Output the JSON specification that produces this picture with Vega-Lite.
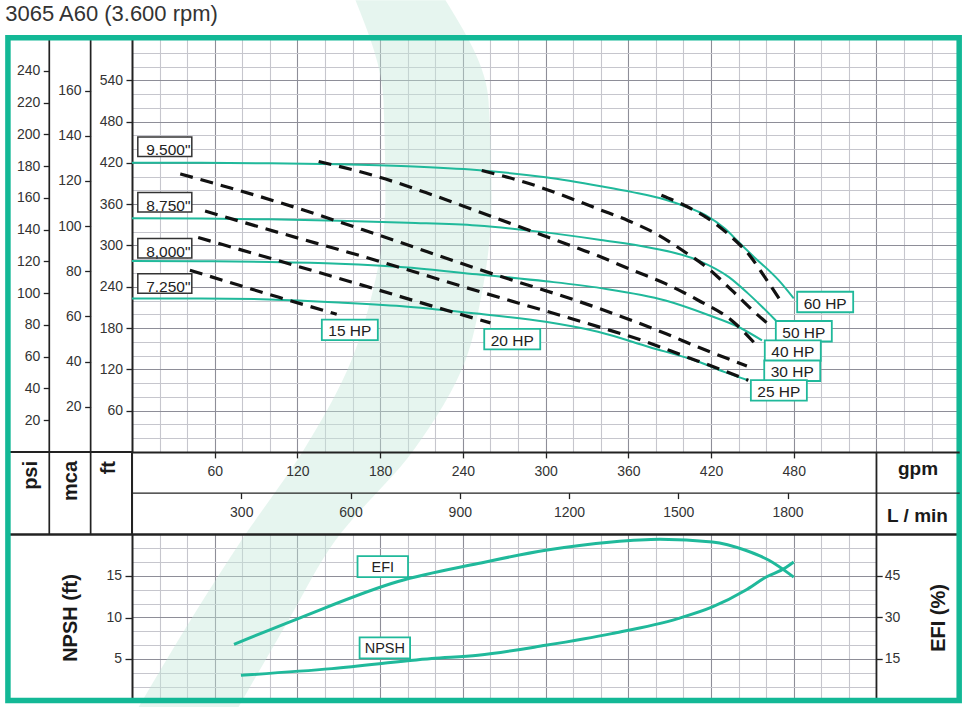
{
  "$schema": "https://vega.github.io/schema/vega-lite/v6.json",
  "background": "white",
  "padding": {"left": 5, "top": 0, "right": 0, "bottom": 0},
  "width": 827.2,
  "height": 661.5,
  "title": {"text": "3065 A60 (3.600 rpm)", "anchor": "start", "frame": "group", "dx": -126.8, "offset": -42.3, "fontSize": 22, "fontWeight": "normal", "color": "#333", "font": "Liberation Sans", "baseline": "alphabetic"},
  "config": {
    "view": {"stroke": null},
    "font": "Liberation Sans",
    "axis": {"labelFont": "Liberation Sans", "titleFont": "Liberation Sans", "labelColor": "#333", "labelFontSize": 14, "tickColor": "#222", "domainColor": "#222", "titleColor": "#1a1a1a", "labelFlush": false, "labelOverlap": false}
  },
  "datasets": {
    "band": [
      {"ft": 656.2, "gl": 162.1, "gr": 227.4}, {"ft": 510.9, "gl": 182.4, "gr": 258.6}, {"ft": 365.6, "gl": 183.8, "gr": 260.8}, {"ft": 220.3, "gl": 173.0, "gr": 252.8}, {"ft": 133.1, "gl": 159.2, "gr": 241.9}, {"ft": 2.3, "gl": 124.4, "gr": 204.2}, {"ft": -128.5, "gl": 79.4, "gr": 147.6}, {"ft": -244.7, "gl": 42.4, "gr": 113.5}, {"ft": -371.1, "gl": 4.7, "gr": 77.2}
    ],
    "diam": [
      {"d": "9.500\"", "gpm": 0, "ft": 420}, {"d": "9.500\"", "gpm": 50, "ft": 420}, {"d": "9.500\"", "gpm": 100, "ft": 419.5}, {"d": "9.500\"", "gpm": 150, "ft": 418}, {"d": "9.500\"", "gpm": 200, "ft": 415}, {"d": "9.500\"", "gpm": 250, "ft": 409.5}, {"d": "9.500\"", "gpm": 300, "ft": 399}, {"d": "9.500\"", "gpm": 340, "ft": 386}, {"d": "9.500\"", "gpm": 363, "ft": 377.5}, {"d": "9.500\"", "gpm": 387, "ft": 366.5}, {"d": "9.500\"", "gpm": 401, "ft": 357}, {"d": "9.500\"", "gpm": 416, "ft": 344}, {"d": "9.500\"", "gpm": 430, "ft": 324.5}, {"d": "9.500\"", "gpm": 440, "ft": 305}, {"d": "9.500\"", "gpm": 450, "ft": 285.5}, {"d": "9.500\"", "gpm": 469, "ft": 249.5}, {"d": "9.500\"", "gpm": 480, "ft": 223},
      {"d": "8.750\"", "gpm": 0, "ft": 339.5}, {"d": "8.750\"", "gpm": 50, "ft": 339}, {"d": "8.750\"", "gpm": 100, "ft": 338}, {"d": "8.750\"", "gpm": 150, "ft": 336}, {"d": "8.750\"", "gpm": 200, "ft": 333}, {"d": "8.750\"", "gpm": 250, "ft": 329}, {"d": "8.750\"", "gpm": 300, "ft": 319}, {"d": "8.750\"", "gpm": 340, "ft": 308}, {"d": "8.750\"", "gpm": 375, "ft": 297}, {"d": "8.750\"", "gpm": 411, "ft": 278}, {"d": "8.750\"", "gpm": 433, "ft": 254}, {"d": "8.750\"", "gpm": 447, "ft": 230}, {"d": "8.750\"", "gpm": 457, "ft": 211}, {"d": "8.750\"", "gpm": 467, "ft": 191},
      {"d": "8,000\"", "gpm": 0, "ft": 277.5}, {"d": "8,000\"", "gpm": 50, "ft": 277}, {"d": "8,000\"", "gpm": 100, "ft": 276}, {"d": "8,000\"", "gpm": 150, "ft": 273.5}, {"d": "8,000\"", "gpm": 200, "ft": 268}, {"d": "8,000\"", "gpm": 250, "ft": 258}, {"d": "8,000\"", "gpm": 300, "ft": 248}, {"d": "8,000\"", "gpm": 340, "ft": 238}, {"d": "8,000\"", "gpm": 387, "ft": 220}, {"d": "8,000\"", "gpm": 418, "ft": 199}, {"d": "8,000\"", "gpm": 440, "ft": 181.5}, {"d": "8,000\"", "gpm": 457, "ft": 162},
      {"d": "7.250\"", "gpm": 0, "ft": 223}, {"d": "7.250\"", "gpm": 50, "ft": 223}, {"d": "7.250\"", "gpm": 100, "ft": 221.5}, {"d": "7.250\"", "gpm": 150, "ft": 217}, {"d": "7.250\"", "gpm": 200, "ft": 211}, {"d": "7.250\"", "gpm": 250, "ft": 201}, {"d": "7.250\"", "gpm": 300, "ft": 189}, {"d": "7.250\"", "gpm": 338, "ft": 174.5}, {"d": "7.250\"", "gpm": 375, "ft": 152.5}, {"d": "7.250\"", "gpm": 411, "ft": 131}, {"d": "7.250\"", "gpm": 430, "ft": 116}, {"d": "7.250\"", "gpm": 447, "ft": 104}
    ],
    "hp": [
      {"hp": "15 HP", "gpm": 42, "ft": 264}, {"hp": "15 HP", "gpm": 106, "ft": 225}, {"hp": "15 HP", "gpm": 148.5, "ft": 200},
      {"hp": "20 HP", "gpm": 48, "ft": 311.5}, {"hp": "20 HP", "gpm": 106, "ft": 278}, {"hp": "20 HP", "gpm": 164, "ft": 244}, {"hp": "20 HP", "gpm": 252, "ft": 192}, {"hp": "20 HP", "gpm": 260, "ft": 187.5},
      {"hp": "25 HP", "gpm": 53, "ft": 350}, {"hp": "25 HP", "gpm": 106, "ft": 319}, {"hp": "25 HP", "gpm": 164, "ft": 286}, {"hp": "25 HP", "gpm": 252, "ft": 233}, {"hp": "25 HP", "gpm": 338, "ft": 182}, {"hp": "25 HP", "gpm": 370, "ft": 162}, {"hp": "25 HP", "gpm": 401, "ft": 139}, {"hp": "25 HP", "gpm": 428, "ft": 119}, {"hp": "25 HP", "gpm": 447, "ft": 104},
      {"hp": "30 HP", "gpm": 35, "ft": 404}, {"hp": "30 HP", "gpm": 106, "ft": 363}, {"hp": "30 HP", "gpm": 179, "ft": 315}, {"hp": "30 HP", "gpm": 252, "ft": 265}, {"hp": "30 HP", "gpm": 338, "ft": 209}, {"hp": "30 HP", "gpm": 387, "ft": 172}, {"hp": "30 HP", "gpm": 411, "ft": 152}, {"hp": "30 HP", "gpm": 446, "ft": 125},
      {"hp": "40 HP", "gpm": 135.4, "ft": 422}, {"hp": "40 HP", "gpm": 179, "ft": 399.5}, {"hp": "40 HP", "gpm": 215, "ft": 375.5}, {"hp": "40 HP", "gpm": 252, "ft": 348.5}, {"hp": "40 HP", "gpm": 288, "ft": 322}, {"hp": "40 HP", "gpm": 324, "ft": 295.5}, {"hp": "40 HP", "gpm": 338, "ft": 285}, {"hp": "40 HP", "gpm": 363, "ft": 264}, {"hp": "40 HP", "gpm": 387, "ft": 244.5}, {"hp": "40 HP", "gpm": 411, "ft": 220}, {"hp": "40 HP", "gpm": 435, "ft": 191}, {"hp": "40 HP", "gpm": 453, "ft": 155},
      {"hp": "50 HP", "gpm": 253.7, "ft": 409}, {"hp": "50 HP", "gpm": 288, "ft": 390}, {"hp": "50 HP", "gpm": 324, "ft": 364}, {"hp": "50 HP", "gpm": 338, "ft": 353}, {"hp": "50 HP", "gpm": 360, "ft": 336}, {"hp": "50 HP", "gpm": 382, "ft": 315}, {"hp": "50 HP", "gpm": 401, "ft": 290.5}, {"hp": "50 HP", "gpm": 418, "ft": 266.5}, {"hp": "50 HP", "gpm": 435, "ft": 235}, {"hp": "50 HP", "gpm": 450, "ft": 206}, {"hp": "50 HP", "gpm": 464, "ft": 181.5},
      {"hp": "60 HP", "gpm": 384, "ft": 373}, {"hp": "60 HP", "gpm": 401, "ft": 358}, {"hp": "60 HP", "gpm": 418, "ft": 339}, {"hp": "60 HP", "gpm": 435, "ft": 312}, {"hp": "60 HP", "gpm": 447, "ft": 288}, {"hp": "60 HP", "gpm": 459, "ft": 254}, {"hp": "60 HP", "gpm": 471, "ft": 218}
    ],
    "dlab": [
      {"t": "9.500\"", "gpm": 23.8, "ft": 443.6}, {"t": "8.750\"", "gpm": 23.8, "ft": 362.7}, {"t": "8,000\"", "gpm": 23.8, "ft": 295.9}, {"t": "7.250\"", "gpm": 23.8, "ft": 244.6}
    ],
    "hlab": [
      {"t": "15 HP", "gpm": 158, "ft": 177.2}, {"t": "20 HP", "gpm": 275.8, "ft": 163.9}, {"t": "60 HP", "gpm": 502.8, "ft": 217.8}, {"t": "50 HP", "gpm": 487.3, "ft": 175.3}, {"t": "40 HP", "gpm": 479.3, "ft": 147.2}, {"t": "30 HP", "gpm": 478.9, "ft": 117.9}, {"t": "25 HP", "gpm": 469.2, "ft": 89.5}
    ],
    "efi": [
      {"gpm": 74, "efi": 20.3}, {"gpm": 121, "efi": 29.7}, {"gpm": 193, "efi": 43}, {"gpm": 251, "efi": 49.5}, {"gpm": 300, "efi": 54.3}, {"gpm": 348, "efi": 57.3}, {"gpm": 383, "efi": 58.3}, {"gpm": 421, "efi": 57.3}, {"gpm": 445, "efi": 54.3}, {"gpm": 462, "efi": 50.7}, {"gpm": 480, "efi": 44.6}
    ],
    "npsh": [
      {"gpm": 79, "npsh": 3.04}, {"gpm": 145, "npsh": 3.84}, {"gpm": 217.5, "npsh": 5.05}, {"gpm": 251, "npsh": 5.45}, {"gpm": 300, "npsh": 6.65}, {"gpm": 348, "npsh": 8.06}, {"gpm": 396, "npsh": 9.87}, {"gpm": 421, "npsh": 11.27}, {"gpm": 445, "npsh": 13.28}, {"gpm": 460, "npsh": 14.88}, {"gpm": 473, "npsh": 15.89}, {"gpm": 480, "npsh": 16.69}
    ]
  },
  "layer": [
    {
      "data": {"values": [{}]},
      "mark": {"type": "rect", "color": "white", "opacity": 1},
      "encoding": {
        "x": {"datum": 0.8, "type": "quantitative", "scale": {"domain": [0, 600]}, "axis": null},
        "x2": {"datum": 600},
        "y": {"datum": 0, "type": "quantitative", "scale": {"domain": [-361.25, 600]}, "axis": null},
        "y2": {"datum": -120}
      }
    },
    {
      "data": {"values": [{}]},
      "mark": {"type": "rect", "color": "white", "opacity": 1},
      "encoding": {
        "x": {"datum": 540, "type": "quantitative", "scale": {"domain": [0, 600]}, "axis": null},
        "x2": {"datum": 600},
        "y": {"datum": -120, "type": "quantitative", "scale": {"domain": [-361.25, 600]}, "axis": null},
        "y2": {"datum": -361.25}
      }
    },
    {
      "data": {"name": "band"},
      "mark": {"type": "area", "orient": "horizontal", "color": "#c4e6da", "opacity": 0.42, "interpolate": "monotone"},
      "encoding": {
        "y": {"field": "ft", "type": "quantitative", "scale": {"domain": [-361.25, 600]}, "axis": null},
        "x": {"field": "gl", "type": "quantitative", "scale": {"domain": [0, 600]}, "axis": null},
        "x2": {"field": "gr"}
      }
    },
    {
      "data": {"name": "diam"},
      "mark": {"type": "line", "color": "#20b99b", "strokeWidth": 2, "interpolate": "monotone"},
      "encoding": {
        "x": {"field": "gpm", "type": "quantitative", "scale": {"domain": [0, 600]},
          "axis": {"orient": "bottom", "values": [20,40,60,80,100,120,140,160,180,200,220,240,260,280,300,320,340,360,380,400,420,440,460,480,500,520,540,560,580],
            "grid": true, "gridColor": {"condition": {"test": "datum.value % 60 === 0", "value": "#8e8e98"}, "value": "#c6c6cd"}, "gridWidth": 1.1,
            "domain": false, "ticks": false, "labels": false, "title": null}},
        "y": {"field": "ft", "type": "quantitative", "scale": {"domain": [-361.25, 600]},
          "axis": {"orient": "left", "offset": 0, "values": [20,40,60,80,100,120,140,160,180,200,220,240,260,280,300,320,340,360,380,400,420,440,460,480,500,520,540,560,580],
            "grid": true, "gridColor": {"condition": {"test": "datum.value % 60 === 0", "value": "#8e8e98"}, "value": "#c6c6cd"}, "gridWidth": 1.1,
            "domainWidth": 2, "tickSize": 6, "tickWidth": 1.3,
            "tickOpacity": {"condition": {"test": "datum.value % 60 === 0", "value": 1}, "value": 0},
            "labelExpr": "datum.value % 60 === 0 ? datum.label : ''",
            "labelPadding": 3.5,
            "title": "ft", "titleAngle": -90, "titleAlign": "right", "titleBaseline": "middle", "titleX": -23, "titleY": 421.5, "titleFontSize": 20, "titleFontWeight": "bold"}},
        "detail": {"field": "d"}
      }
    },
    {
      "data": {"name": "hp"},
      "mark": {"type": "line", "color": "#111", "strokeWidth": 3.2, "strokeDash": [13, 8], "strokeCap": "butt", "interpolate": "monotone"},
      "encoding": {
        "x": {"field": "gpm", "type": "quantitative", "scale": {"domain": [0, 600]}, "axis": null},
        "y": {"field": "ft", "type": "quantitative", "scale": {"domain": [-361.25, 600]}, "axis": null},
        "detail": {"field": "hp"}
      }
    },
    {
      "data": {"name": "dlab"},
      "mark": {"type": "point", "shape": "M-1,-0.3611L1,-0.3611L1,0.3611L-1,0.3611Z", "size": 2916, "filled": true, "fill": "white", "stroke": "#333", "strokeWidth": 1.5, "opacity": 1},
      "encoding": {
        "x": {"field": "gpm", "type": "quantitative", "scale": {"domain": [0, 600]}, "axis": null},
        "y": {"field": "ft", "type": "quantitative", "scale": {"domain": [-361.25, 600]}, "axis": null}
      }
    },
    {
      "data": {"name": "dlab"},
      "mark": {"type": "text", "font": "Liberation Sans", "fontSize": 15.5, "color": "#222", "align": "center", "baseline": "middle", "dx": 3.5, "dy": 3.3},
      "encoding": {
        "x": {"field": "gpm", "type": "quantitative", "scale": {"domain": [0, 600]}, "axis": null},
        "y": {"field": "ft", "type": "quantitative", "scale": {"domain": [-361.25, 600]}, "axis": null},
        "text": {"field": "t"}
      }
    },
    {
      "data": {"name": "hlab"},
      "mark": {"type": "point", "shape": "M-1,-0.366L1,-0.366L1,0.366L-1,0.366Z", "size": 3136, "filled": true, "fill": "white", "stroke": "#20b99b", "strokeWidth": 1.8, "opacity": 1},
      "encoding": {
        "x": {"field": "gpm", "type": "quantitative", "scale": {"domain": [0, 600]}, "axis": null},
        "y": {"field": "ft", "type": "quantitative", "scale": {"domain": [-361.25, 600]}, "axis": null}
      }
    },
    {
      "data": {"name": "hlab"},
      "mark": {"type": "text", "font": "Liberation Sans", "fontSize": 15.5, "color": "#222", "align": "center", "baseline": "middle", "dy": 1.5},
      "encoding": {
        "x": {"field": "gpm", "type": "quantitative", "scale": {"domain": [0, 600]}, "axis": null},
        "y": {"field": "ft", "type": "quantitative", "scale": {"domain": [-361.25, 600]}, "axis": null},
        "text": {"field": "t"}
      }
    },
    {
      "data": {"values": [{}]},
      "mark": {"type": "point", "opacity": 0},
      "encoding": {
        "x": {"datum": 0, "type": "quantitative", "scale": {"domain": [0, 600]},
          "axis": {"orient": "bottom", "offset": -248.6, "values": [60,120,180,240,300,360,420,480], "grid": false, "zindex": 1,
            "domainWidth": 2, "tickSize": 6, "tickWidth": 1.3, "labelPadding": 6.4,
            "title": "gpm", "titleX": 785.5, "titleY": 22.5, "titleAlign": "center", "titleBaseline": "alphabetic", "titleFontSize": 19, "titleFontWeight": "bold"}},
        "y": {"datum": 0, "type": "quantitative", "scale": {"domain": [-361.25, 600]}, "axis": null}
      }
    },
    {
      "data": {"values": [{}]},
      "mark": {"type": "point", "opacity": 0},
      "encoding": {
        "x": {"datum": 0, "type": "quantitative", "scale": {"domain": [0, 600]}, "axis": null},
        "y": {"datum": 0, "type": "quantitative", "scale": {"domain": [-110.11, 182.88]},
          "axis": {"orient": "left", "offset": 41.36, "values": [20,40,60,80,100,120,140,160], "grid": false, "domain": false,
            "tickSize": 6, "tickWidth": 1.3, "labelPadding": 3.5,
            "title": "mca", "titleAngle": -90, "titleAlign": "right", "titleBaseline": "middle", "titleX": -20.3, "titleY": 421.5, "titleFontSize": 20, "titleFontWeight": "bold"}}
      }
    },
    {
      "data": {"values": [{}]},
      "mark": {"type": "point", "opacity": 0},
      "encoding": {
        "x": {"datum": 0, "type": "quantitative", "scale": {"domain": [0, 600]}, "axis": null},
        "y": {"datum": 0, "type": "quantitative", "scale": {"domain": [-156.61, 260.12]},
          "axis": {"orient": "left", "offset": 82.72, "values": [20,40,60,80,100,120,140,160,180,200,220,240], "grid": false, "domain": false,
            "tickSize": 6, "tickWidth": 1.3, "labelPadding": 3.5,
            "title": "psi", "titleAngle": -90, "titleAlign": "right", "titleBaseline": "middle", "titleX": -18.5, "titleY": 421.5, "titleFontSize": 20, "titleFontWeight": "bold"}}
      }
    },
    {
      "data": {"values": [{}]},
      "mark": {"type": "point", "opacity": 0},
      "encoding": {
        "x": {"datum": 0, "type": "quantitative", "scale": {"domain": [0, 2271.25]},
          "axis": {"orient": "bottom", "offset": -207.9, "values": [300,600,900,1200,1500,1800], "format": "d", "grid": false, "zindex": 1,
            "domainWidth": 1.4, "tickSize": 6, "tickWidth": 1.3, "labelPadding": 7.4,
            "title": "L / min", "titleX": 785, "titleY": 28.7, "titleAlign": "center", "titleBaseline": "alphabetic", "titleFontSize": 19, "titleFontWeight": "bold"}},
        "y": {"datum": 0, "type": "quantitative", "scale": {"domain": [-361.25, 600]}, "axis": null}
      }
    },
    {
      "data": {"name": "npsh"},
      "mark": {"type": "line", "color": "#20b99b", "strokeWidth": 3, "interpolate": "monotone"},
      "encoding": {
        "x": {"field": "gpm", "type": "quantitative", "scale": {"domain": [0, 600]}, "axis": null},
        "y": {"field": "npsh", "type": "quantitative", "scale": {"domain": [0, 79.7]},
          "axis": {"orient": "left", "offset": 0, "values": [5, 10, 15], "grid": false, "domain": false, "tickSize": 7, "tickWidth": 1.3, "labelPadding": 3.5,
            "title": "NPSH (ft)", "titleAngle": -90, "titleAlign": "center", "titleBaseline": "middle", "titleX": -61.5, "titleY": 578.5, "titleFontSize": 20, "titleFontWeight": "bold"}}
      }
    },
    {
      "data": {"values": [{"t": "NPSH", "gpm": 183.4, "npsh": 6.33}]},
      "mark": {"type": "point", "shape": "M-1,-0.416L1,-0.416L1,0.416L-1,0.416Z", "size": 2550, "filled": true, "fill": "white", "stroke": "#20b99b", "strokeWidth": 1.8, "opacity": 1},
      "encoding": {
        "x": {"field": "gpm", "type": "quantitative", "scale": {"domain": [0, 600]}, "axis": null},
        "y": {"field": "npsh", "type": "quantitative", "scale": {"domain": [0, 79.7]}, "axis": null}
      }
    },
    {
      "data": {"values": [{"t": "NPSH", "gpm": 183.4, "npsh": 6.33}]},
      "mark": {"type": "text", "font": "Liberation Sans", "fontSize": 14.5, "color": "#222", "align": "center", "baseline": "middle", "dy": 1},
      "encoding": {
        "x": {"field": "gpm", "type": "quantitative", "scale": {"domain": [0, 600]}, "axis": null},
        "y": {"field": "npsh", "type": "quantitative", "scale": {"domain": [0, 79.7]}, "axis": null},
        "text": {"field": "t"}
      }
    },
    {
      "data": {"name": "efi"},
      "mark": {"type": "line", "color": "#20b99b", "strokeWidth": 3, "interpolate": "monotone"},
      "encoding": {
        "x": {"field": "gpm", "type": "quantitative", "scale": {"domain": [0, 600]}, "axis": null},
        "y": {"field": "efi", "type": "quantitative", "scale": {"domain": [0, 239.09]},
          "axis": {"orient": "right", "values": [5,10,15,20,25,30,35,40,45,50,55],
            "grid": true, "gridColor": {"condition": {"test": "datum.value % 15 === 0", "value": "#8e8e98"}, "value": "#c6c6cd"}, "gridWidth": 1.1,
            "domain": false, "ticks": false, "labels": false, "title": null}}
      }
    },
    {
      "data": {"values": [{}]},
      "mark": {"type": "point", "opacity": 0},
      "encoding": {
        "x": {"datum": 0, "type": "quantitative", "scale": {"domain": [0, 600]}, "axis": null},
        "y": {"datum": 0, "type": "quantitative", "scale": {"domain": [0, 239.09]},
          "axis": {"orient": "right", "offset": -83, "values": [15, 30, 45], "grid": false, "domain": false, "zindex": 1,
            "tickSize": 6, "tickWidth": 1.3, "labelPadding": 2,
            "title": "EFI (%)", "titleAngle": -90, "titleAlign": "center", "titleBaseline": "middle", "titleX": 62.3, "titleY": 578.5, "titleFontSize": 20, "titleFontWeight": "bold"}}
      }
    },
    {
      "data": {"values": [{"t": "EFI", "gpm": 181.9, "efi": 48.4}]},
      "mark": {"type": "point", "shape": "M-1,-0.416L1,-0.416L1,0.416L-1,0.416Z", "size": 2550, "filled": true, "fill": "white", "stroke": "#20b99b", "strokeWidth": 1.8, "opacity": 1},
      "encoding": {
        "x": {"field": "gpm", "type": "quantitative", "scale": {"domain": [0, 600]}, "axis": null},
        "y": {"field": "efi", "type": "quantitative", "scale": {"domain": [0, 239.09]}, "axis": null}
      }
    },
    {
      "data": {"values": [{"t": "EFI", "gpm": 181.9, "efi": 48.4}]},
      "mark": {"type": "text", "font": "Liberation Sans", "fontSize": 14.5, "color": "#222", "align": "center", "baseline": "middle", "dy": 1},
      "encoding": {
        "x": {"field": "gpm", "type": "quantitative", "scale": {"domain": [0, 600]}, "axis": null},
        "y": {"field": "efi", "type": "quantitative", "scale": {"domain": [0, 239.09]}, "axis": null},
        "text": {"field": "t"}
      }
    },
    {
      "data": {"values": [{}]},
      "mark": {"type": "rule", "color": "#222", "strokeWidth": 2},
      "encoding": {
        "x": {"datum": -90, "type": "quantitative", "scale": {"domain": [0, 600]}, "axis": null},
        "x2": {"datum": 0},
        "y": {"datum": 0, "type": "quantitative", "scale": {"domain": [-361.25, 600]}, "axis": null}
      }
    },
    {
      "data": {"values": [{}]},
      "mark": {"type": "rule", "color": "#222", "strokeWidth": 1.7},
      "encoding": {
        "x": {"datum": -60, "type": "quantitative", "scale": {"domain": [0, 600]}, "axis": null},
        "y": {"datum": 600, "type": "quantitative", "scale": {"domain": [-361.25, 600]}, "axis": null},
        "y2": {"datum": -120}
      }
    },
    {
      "data": {"values": [{}]},
      "mark": {"type": "rule", "color": "#222", "strokeWidth": 1.7},
      "encoding": {
        "x": {"datum": -30, "type": "quantitative", "scale": {"domain": [0, 600]}, "axis": null},
        "y": {"datum": 600, "type": "quantitative", "scale": {"domain": [-361.25, 600]}, "axis": null},
        "y2": {"datum": -120}
      }
    },
    {
      "data": {"values": [{}]},
      "mark": {"type": "rule", "color": "#222", "strokeWidth": 2},
      "encoding": {
        "x": {"datum": 0, "type": "quantitative", "scale": {"domain": [0, 600]}, "axis": null},
        "y": {"datum": 0, "type": "quantitative", "scale": {"domain": [-361.25, 600]}, "axis": null},
        "y2": {"datum": -120}
      }
    },
    {
      "data": {"values": [{}]},
      "mark": {"type": "rule", "color": "#222", "strokeWidth": 1.8},
      "encoding": {
        "x": {"datum": 540, "type": "quantitative", "scale": {"domain": [0, 600]}, "axis": null},
        "y": {"datum": 0, "type": "quantitative", "scale": {"domain": [-361.25, 600]}, "axis": null},
        "y2": {"datum": -361.25}
      }
    },
    {
      "data": {"values": [{}]},
      "mark": {"type": "rule", "color": "#222", "strokeWidth": 2.3},
      "encoding": {
        "x": {"datum": -90, "type": "quantitative", "scale": {"domain": [0, 600]}, "axis": null},
        "x2": {"datum": 600},
        "y": {"datum": -120, "type": "quantitative", "scale": {"domain": [-361.25, 600]}, "axis": null}
      }
    },
    {
      "data": {"values": [{}]},
      "mark": {"type": "rect", "fillOpacity": 0, "stroke": "#13b896", "strokeWidth": 5.5},
      "encoding": {
        "x": {"datum": -90, "type": "quantitative", "scale": {"domain": [0, 600]}, "axis": null},
        "x2": {"datum": 600},
        "y": {"datum": -361.25, "type": "quantitative", "scale": {"domain": [-361.25, 600]}, "axis": null},
        "y2": {"datum": 601.8}
      }
    }
  ],
  "resolve": {"scale": {"x": "independent", "y": "independent"}}
}
